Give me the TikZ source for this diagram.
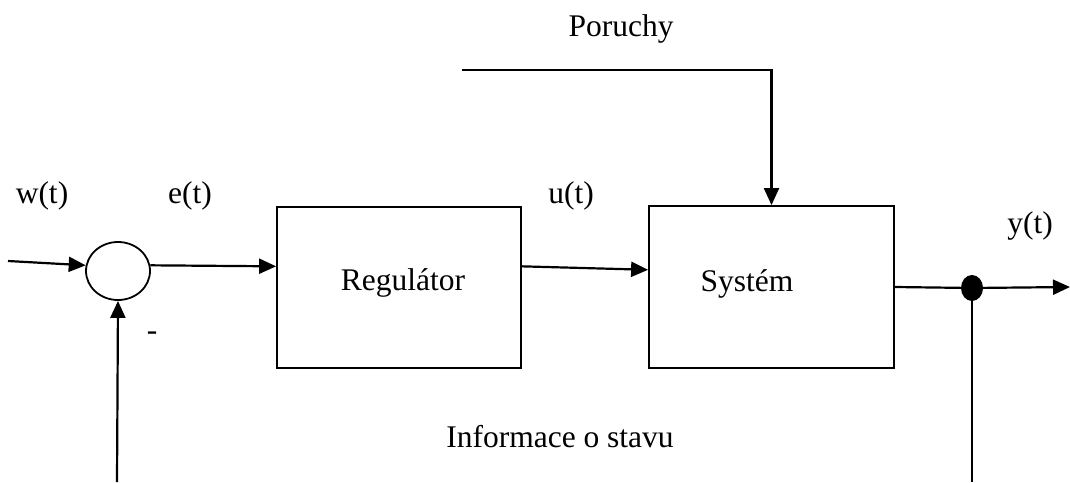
\documentclass[tikz,border=0pt]{standalone}
\usepackage{fontspec}
\setmainfont{Liberation Serif}
\usetikzlibrary{arrows.meta,calc,shapes.geometric}
\begin{document}
\begin{tikzpicture}[x=1pt,y=-1pt,
  wire/.style={line width=2.2pt},
  arr/.style={wire,-{Triangle[length=17pt,width=15pt]}},
  blockbox/.style={draw,line width=1.8pt,inner sep=0pt},
  lbl/.style={font=\fontsize{31.5}{36}\selectfont,anchor=base,inner sep=0pt}]
  \useasboundingbox (0,0) rectangle (1070,482);

  % summing junction and blocks
  \node[draw,ellipse,line width=1.8pt,minimum width=64pt,minimum height=58pt,inner sep=0pt] (sum) at (118,271) {};
  \node[blockbox,minimum width=244pt,minimum height=161pt] (reg) at (399,287.5) {};
  \node[blockbox,minimum width=245pt,minimum height=162pt] (sys) at (771.5,287) {};
  \node[fill,ellipse,minimum width=22pt,minimum height=26pt,inner sep=0pt] (dot) at (972,288) {};

  % free ends of the connectors
  \coordinate (in) at (8,261);
  \coordinate (dist) at (462,70);
  \coordinate (out) at (1070,287);
  \coordinate (fbL) at (117,482);
  \coordinate (fbR) at (972,482);

  % signal path
  \draw[arr] (in) -- (sum.170);
  \draw[arr] (sum.10) -- ($(reg.north west)!0.37!(reg.south west)$);
  \draw[arr] ($(reg.north east)!0.37!(reg.south east)$) -- ($(sys.north west)!0.395!(sys.south west)$);
  \draw[arr] (dist) -| (sys.north);
  \draw[wire] (sys.east) -- (dot);
  \draw[arr] (dot) -- (out);
  \draw[wire] (dot) -- (fbR);
  \draw[arr] (fbL) -- (sum.south);

  % texts
  \node[lbl] (tw) at (42,203) {w(t)};
  \node[lbl] (te) at (190,203) {e(t)};
  \node[lbl] (tu) at (571,203) {u(t)};
  \node[lbl] (ty) at (1030,233) {y(t)};
  \node[lbl] (tp) at (621,36) {Poruchy};
  \node[lbl] (tm) at (152,340) {-};
  \node[lbl] (treg) at (403,290) {Regulátor};
  \node[lbl] (tsys) at (747,291) {Systém};
  \node[lbl] (tinfo) at (560,447) {Informace o stavu};
\end{tikzpicture}
\end{document}
